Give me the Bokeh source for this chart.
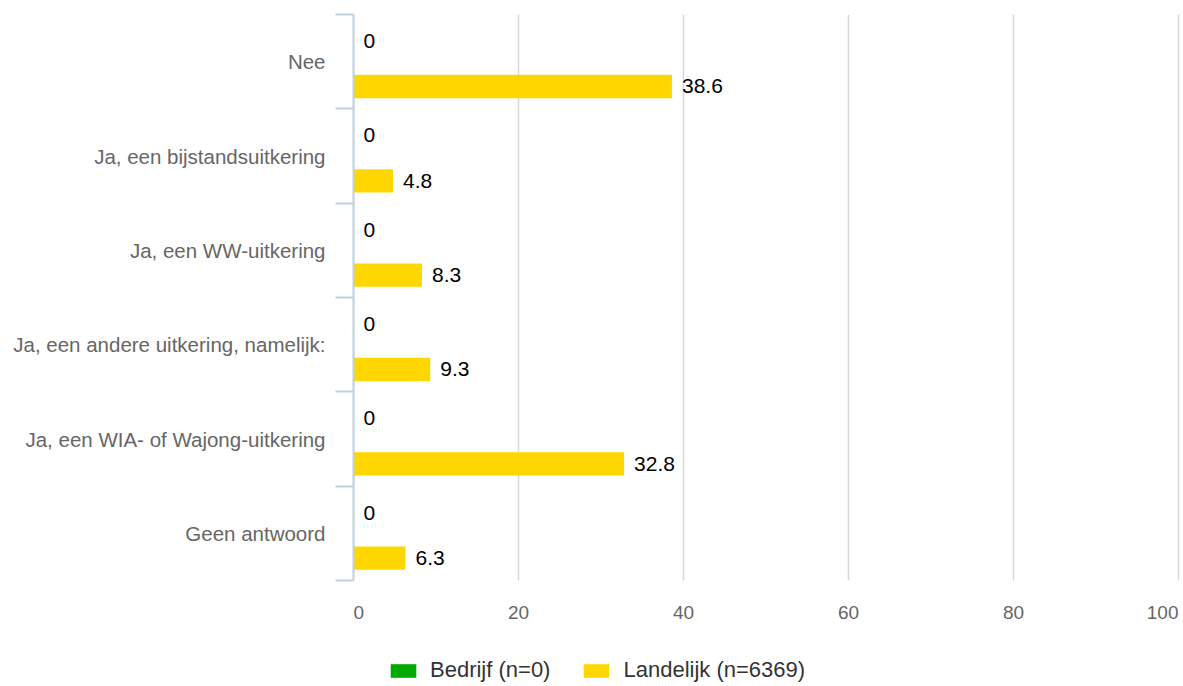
from bokeh.plotting import figure
from bokeh.models import Range1d, FixedTicker, ColumnDataSource, Legend, LegendItem
from bokeh.core.properties import value
from bokeh.embed import file_html
from bokeh.resources import INLINE

categories = ["Nee", "Ja, een bijstandsuitkering", "Ja, een WW-uitkering",
              "Ja, een andere uitkering, namelijk:", "Ja, een WIA- of Wajong-uitkering",
              "Geen antwoord"]
bedrijf = [0, 0, 0, 0, 0, 0]
landelijk = [38.6, 4.8, 8.3, 9.3, 32.8, 6.3]
x_ticks = [0, 20, 40, 60, 80, 100]
series_names = ["Bedrijf (n=0)", "Landelijk (n=6369)"]
series_colors = ["#00AA00", "#FFD700"]

FONT = "Liberation Sans"
n = len(categories)
centers = [i + 0.5 for i in range(n)]
bounds = list(range(n + 1))

# layout geometry (pixels)
W, H = 1183, 686
LEFT, TOP = 353, 14
CAT_BOTTOM = 580
X100 = 1178
px_per_unit_y = (CAT_BOTTOM - TOP) / n
y_span = (H - TOP) / px_per_unit_y
x_span = 100 * (W - LEFT) / (X100 - LEFT)
tick_label_y = (612 - TOP) / px_per_unit_y

p = figure(width=W, height=H, output_backend="svg", toolbar_location=None,
           x_range=Range1d(0, x_span), y_range=Range1d(y_span, 0),
           min_border_left=LEFT, min_border_right=0, min_border_top=TOP,
           min_border_bottom=0)
p.outline_line_color = None
p.background_fill_color = "white"
p.border_fill_color = "white"
p.xaxis.visible = False
p.xgrid.grid_line_color = None
p.ygrid.grid_line_color = None

# y axis (categories)
p.yaxis.bounds = (0, n)
p.yaxis.ticker = FixedTicker(ticks=centers, minor_ticks=bounds)
p.yaxis.major_label_overrides = {c: cat for c, cat in zip(centers, categories)}
p.yaxis.major_tick_line_color = None
p.yaxis.major_tick_out = 0
p.yaxis.major_tick_in = 0
p.yaxis.minor_tick_out = 18
p.yaxis.minor_tick_in = 0
p.yaxis.minor_tick_line_color = "#C0D0E0"
p.yaxis.minor_tick_line_width = 2
p.yaxis.axis_line_color = "#C0D0E0"
p.yaxis.axis_line_width = 2
p.yaxis.major_label_standoff = 10
p.yaxis.major_label_text_font = FONT
p.yaxis.major_label_text_font_size = "20.5px"
p.yaxis.major_label_text_color = "#666666"

# vertical grid lines over the category area
p.segment(x0=x_ticks, y0=[0] * len(x_ticks), x1=x_ticks, y1=[n] * len(x_ticks),
          line_color="#D8D8D8", line_width=1.5)

# x tick labels (first and last kept inside the plot area)
aligns = ["left"] + ["center"] * (len(x_ticks) - 2) + ["right"]
p.text(x=x_ticks, y=[tick_label_y] * len(x_ticks), text=[str(t) for t in x_ticks],
       text_align=aligns, text_baseline="middle", text_font=value(FONT),
       text_font_size="19px", text_color="#666666")

bar_h = 0.247
off_b = -0.263
off_l = 0.263

src_b = ColumnDataSource(dict(y=[c + off_b for c in centers], v=bedrijf,
                              ly=[c - 0.22 for c in centers],
                              t=[f"{v:g}" for v in bedrijf]))
src_l = ColumnDataSource(dict(y=[c + off_l for c in centers], v=landelijk,
                              ly=[c + off_l for c in centers],
                              t=[f"{v:g}" for v in landelijk]))

r_b = p.hbar(y="y", right="v", left=0, height=bar_h, source=src_b,
             fill_color=series_colors[0], line_color=None)
r_l = p.hbar(y="y", right="v", left=0, height=bar_h, source=src_l,
             fill_color=series_colors[1], line_color=None)

for src in (src_b, src_l):
    p.text(x="v", y="ly", text="t", source=src, x_offset=10,
           text_align="left", text_baseline="middle",
           text_font=value(FONT), text_font_size="21px", text_color="#000000")

legend = Legend(items=[LegendItem(label=series_names[0], renderers=[r_b]),
                       LegendItem(label=series_names[1], renderers=[r_l])],
                location=(387 - LEFT, 3), orientation="horizontal",
                glyph_width=32, glyph_height=17, label_height=17,
                label_standoff=11, spacing=30, padding=0, margin=0,
                border_line_color=None, background_fill_alpha=0,
                label_text_font=FONT, label_text_font_size="22px",
                label_text_color="#333333")
p.add_layout(legend)

open("out.html", "w").write(file_html(p, INLINE))
